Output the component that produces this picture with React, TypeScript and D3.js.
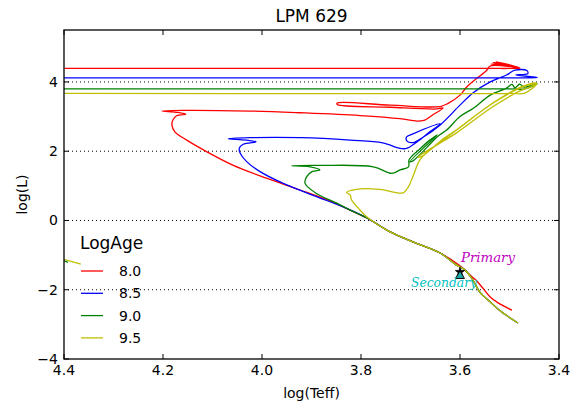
import React from "react";
import * as d3 from "d3";

type Pt = [number, number]; // [log(Teff), log(L)]

const title = "LPM 629";
const xTicks = [4.4, 4.2, 4.0, 3.8, 3.6, 3.4];
const yTicks = [-4, -2, 0, 2, 4];
const gridY = [-2, 0, 2, 4];

const ages = ["8.0", "8.5", "9.0", "9.5"];
const ageColors = ["#ff0000", "#0000ff", "#008000", "#bfbf00"];

// Isochrone for log(age) = 8.0
const iso80: Pt[] = [
  [3.495, -2.59], [3.523, -2.38], [3.539, -2.21], [3.554, -1.95], [3.568, -1.72],
  [3.580, -1.57], [3.600, -1.31], [3.640, -0.94], [3.695, -0.62], [3.741, -0.33],
  [3.788, 0.07], [3.822, 0.30], [3.857, 0.53], [3.923, 0.88], [3.991, 1.22],
  [4.059, 1.60], [4.112, 1.99], [4.152, 2.32], [4.176, 2.56], [4.182, 2.76],
  [4.180, 2.90], [4.172, 3.03], [4.154, 3.07], [4.170, 3.12], [4.202, 3.16],
  [4.160, 3.18], [4.024, 3.16], [3.923, 3.11], [3.802, 3.03], [3.721, 2.94],
  [3.687, 2.87], [3.671, 2.90], [3.657, 3.03], [3.634, 3.25],
  [3.647, 3.22], [3.741, 3.27], [3.848, 3.35], [3.848, 3.39], [3.741, 3.33],
  [3.640, 3.29], [3.624, 3.38],
  [3.600, 3.62], [3.586, 3.86], [3.546, 4.34], [3.539, 4.46],
  [3.481, 4.41], [3.537, 4.52], [3.483, 4.42], [3.533, 4.56], [3.485, 4.43],
  [3.527, 4.58], [3.491, 4.46], [3.479, 4.40],
  [3.500, 4.39], [3.540, 4.39], [4.600, 4.39],
];

// Isochrone for log(age) = 8.5
const iso85: Pt[] = [
  [3.483, -2.96], [3.519, -2.61], [3.539, -2.35], [3.560, -2.07], [3.574, -1.72],
  [3.590, -1.43], [3.610, -1.26], [3.640, -0.94], [3.695, -0.62], [3.741, -0.33],
  [3.788, 0.07], [3.836, 0.39], [3.890, 0.69], [3.957, 1.07], [4.004, 1.41],
  [4.031, 1.70], [4.044, 1.94], [4.046, 2.08], [4.038, 2.20], [4.012, 2.27],
  [4.031, 2.32], [4.068, 2.36], [4.024, 2.39], [3.923, 2.39], [3.822, 2.32],
  [3.756, 2.24], [3.721, 2.08], [3.708, 2.08], [3.687, 2.27], [3.661, 2.56],
  [3.640, 2.79], [3.695, 2.50], [3.708, 2.41], [3.707, 2.29], [3.695, 2.25],
  [3.677, 2.38], [3.640, 2.76],
  [3.600, 3.33], [3.574, 3.68], [3.539, 4.00], [3.506, 4.20],
  [3.489, 4.34], [3.465, 4.33], [3.463, 4.24], [3.487, 4.20], [3.444, 4.13],
  [3.470, 4.12], [3.510, 4.12], [4.600, 4.12],
];

// Isochrone for log(age) = 9.0
const iso90: Pt[] = [
  [3.483, -2.96], [3.519, -2.61], [3.539, -2.35], [3.560, -2.07], [3.574, -1.72],
  [3.590, -1.43], [3.610, -1.26], [3.640, -0.94], [3.695, -0.62], [3.741, -0.33],
  [3.788, 0.07], [3.822, 0.30], [3.849, 0.50], [3.890, 0.78], [3.913, 1.07],
  [3.910, 1.26], [3.899, 1.41], [3.883, 1.46], [3.903, 1.55], [3.940, 1.58],
  [3.883, 1.59], [3.775, 1.55], [3.738, 1.36], [3.721, 1.46], [3.704, 1.55],
  [3.703, 1.75], [3.695, 1.89], [3.687, 1.99], [3.661, 2.32], [3.646, 2.47],
  [3.701, 1.70], [3.695, 1.72], [3.644, 2.44],
  [3.627, 2.61], [3.600, 3.00], [3.573, 3.24], [3.539, 3.62], [3.506, 3.82],
  [3.495, 3.93], [3.489, 3.83], [3.479, 3.94], [3.471, 3.85], [3.444, 3.95],
  [3.469, 3.80], [3.500, 3.80], [4.600, 3.80],
];
const wd90: Pt[] = [[4.43, -0.97], [4.392, -1.21]];

// Isochrone for log(age) = 9.5
const iso95: Pt[] = [
  [3.483, -2.96], [3.519, -2.61], [3.539, -2.35], [3.560, -2.07], [3.574, -1.72],
  [3.590, -1.43], [3.610, -1.26], [3.640, -0.94], [3.695, -0.62], [3.741, -0.33],
  [3.788, 0.10], [3.805, 0.35], [3.819, 0.59], [3.822, 0.74], [3.829, 0.81],
  [3.809, 0.90], [3.762, 0.90], [3.715, 0.80], [3.704, 0.98], [3.694, 1.31],
  [3.681, 1.75], [3.661, 2.03], [3.640, 2.26], [3.607, 2.61], [3.533, 3.39],
  [3.473, 3.86], [3.445, 3.96],
  [3.459, 3.85], [3.479, 3.74], [3.533, 3.29], [3.607, 2.53], [3.634, 2.29],
  [3.685, 1.83], [3.677, 1.85], [3.640, 2.29],
  [3.604, 2.65], [3.530, 3.43], [3.471, 3.89], [3.445, 3.96],
  [3.469, 3.68], [3.500, 3.67], [4.600, 3.67],
];
const wd95: Pt[] = [[4.43, -1.0], [4.366, -1.26]];

const tracks: Pt[][][] = [[iso80], [iso85], [iso90, wd90], [iso95, wd95]];

// Binary components
const primary: Pt = [3.6, -1.49];
const secondary: Pt = [3.6, -1.6];

const W = 578;
const H = 408;
const M = { left: 64, right: 559, top: 30, bottom: 359 };

export default function App() {
  const x = d3.scaleLinear().domain([4.4, 3.4]).range([M.left, M.right]);
  const y = d3.scaleLinear().domain([-4, 5.5]).range([M.bottom, M.top]);
  const line = d3
    .line<Pt>()
    .x((d) => x(d[0]))
    .y((d) => y(d[1]))
    .curve(d3.curveCatmullRom.alpha(0.5));

  const font = "DejaVu Sans, sans-serif";
  const tick = 5;
  const fmt = (v: number) => (v < 0 ? "\u2212" + Math.abs(v) : String(v));

  const star = d3.symbol().type(d3.symbolStar).size(26)();
  const tri = d3.symbol().type(d3.symbolTriangle).size(34)();

  return (
    <svg
      width={W}
      height={H}
      style={{ position: "absolute", left: 0, top: 0, background: "#fff" }}
    >
      <defs>
        <clipPath id="plot">
          <rect x={M.left} y={M.top} width={M.right - M.left} height={M.bottom - M.top} />
        </clipPath>
      </defs>
      <rect width={W} height={H} fill="#fff" />

      {/* dotted horizontal grid */}
      {gridY.map((v) => (
        <line
          key={v}
          x1={M.left}
          x2={M.right}
          y1={y(v)}
          y2={y(v)}
          stroke="#000"
          strokeWidth={1}
          strokeDasharray="1,3"
        />
      ))}

      {/* isochrones */}
      <g clipPath="url(#plot)">
        {tracks.map((segs, i) =>
          segs.map((seg, j) => (
            <path
              key={`${i}-${j}`}
              d={line(seg) ?? ""}
              fill="none"
              stroke={ageColors[i]}
              strokeWidth={1.3}
              strokeLinejoin="round"
            />
          ))
        )}
        <path
          d={star}
          transform={`translate(${x(primary[0])},${y(primary[1])})`}
          fill="#000"
          stroke="#000"
          strokeWidth={0.8}
        />
        <path
          d={tri}
          transform={`translate(${x(secondary[0])},${y(secondary[1])})`}
          fill="#1fa8a8"
          stroke="#000"
          strokeWidth={1}
        />
      </g>

      <text
        x={x(primary[0]) + 1}
        y={y(primary[1]) - 10}
        fill="#bf00bf"
        fontFamily="DejaVu Serif, serif"
        fontStyle="italic"
        fontSize={13}
        textLength={54}
        lengthAdjust="spacingAndGlyphs"
      >
        Primary
      </text>
      <text
        x={x(secondary[0]) - 49}
        y={y(secondary[1]) + 11}
        fill="#00bfbf"
        fontFamily="DejaVu Serif, serif"
        fontStyle="italic"
        fontSize={13}
        textLength={66}
        lengthAdjust="spacingAndGlyphs"
      >
        Secondary
      </text>

      {/* frame */}
      <rect
        x={M.left}
        y={M.top}
        width={M.right - M.left}
        height={M.bottom - M.top}
        fill="none"
        stroke="#000"
        strokeWidth={1.3}
      />

      {/* x ticks */}
      {xTicks.map((v) => (
        <g key={v}>
          <line x1={x(v)} x2={x(v)} y1={M.bottom} y2={M.bottom - tick} stroke="#000" />
          <line x1={x(v)} x2={x(v)} y1={M.top} y2={M.top + tick} stroke="#000" />
          <text
            x={x(v)}
            y={M.bottom + 16}
            textAnchor="middle"
            fontFamily={font}
            fontSize={14}
            fill="#000"
          >
            {v.toFixed(1)}
          </text>
        </g>
      ))}

      {/* y ticks */}
      {yTicks.map((v) => (
        <g key={v}>
          <line x1={M.left} x2={M.left + tick} y1={y(v)} y2={y(v)} stroke="#000" />
          <line x1={M.right} x2={M.right - tick} y1={y(v)} y2={y(v)} stroke="#000" />
          <text
            x={M.left - 6}
            y={y(v) + 5}
            textAnchor="end"
            fontFamily={font}
            fontSize={14}
            fill="#000"
          >
            {fmt(v)}
          </text>
        </g>
      ))}

      {/* title and axis labels */}
      <text
        x={(M.left + M.right) / 2}
        y={22}
        textAnchor="middle"
        fontFamily={font}
        fontSize={17}
        fill="#000"
      >
        {title}
      </text>
      <text
        x={(M.left + M.right) / 2}
        y={398}
        textAnchor="middle"
        fontFamily={font}
        fontSize={14}
        fill="#000"
      >
        log(Teff)
      </text>
      <text
        transform={`translate(27,${(M.top + M.bottom) / 2}) rotate(-90)`}
        textAnchor="middle"
        fontFamily={font}
        fontSize={14}
        fill="#000"
      >
        log(L)
      </text>

      {/* legend */}
      <text x={80} y={249} fontFamily={font} fontSize={17} fill="#000">
        LogAge
      </text>
      {ages.map((a, i) => {
        const ly = 271 + i * 22.3;
        return (
          <g key={a}>
            <line x1={81} x2={103} y1={ly} y2={ly} stroke={ageColors[i]} strokeWidth={1.3} />
            <text x={119} y={ly + 5} fontFamily={font} fontSize={14} fill="#000">
              {a}
            </text>
          </g>
        );
      })}
    </svg>
  );
}
